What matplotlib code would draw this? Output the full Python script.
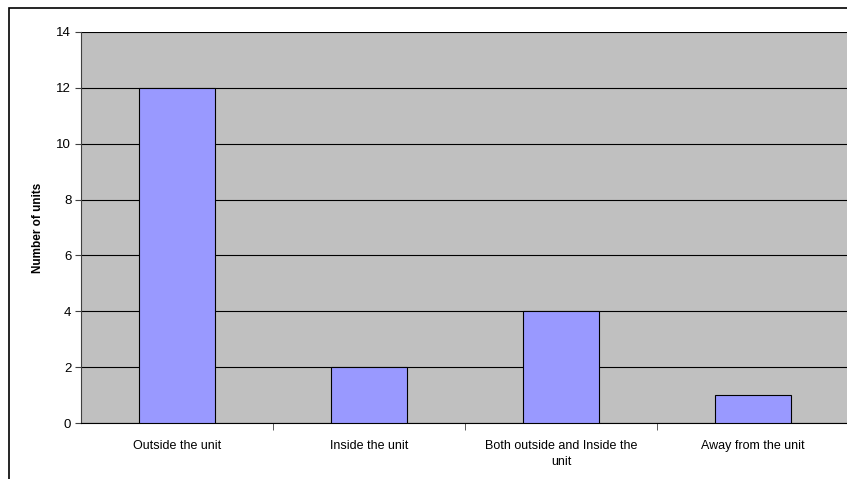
import matplotlib
matplotlib.use("Agg")
import matplotlib.pyplot as plt
from matplotlib.patches import Rectangle

categories = ["Outside the unit", "Inside the unit", "Both outside and Inside the\nunit", "Away from the unit"]
values = [12, 2, 4, 1]
yticks = [0, 2, 4, 6, 8, 10, 12, 14]

plt.rcParams['font.family'] = ['Liberation Sans', 'DejaVu Sans']

W, H = 847, 479
fig = plt.figure(figsize=(W/100, H/100), dpi=100)
fig.patch.set_facecolor('white')

# outer chart border (left and top visible)
fig.add_artist(Rectangle((9/W, -0.1), 1.2, 1 - 8/H + 0.1, transform=fig.transFigure,
                         fill=False, edgecolor='black', linewidth=1.2))

left, right, top, bottom = 81, 849, 32, 423
ax = fig.add_axes([left/W, 1 - bottom/H, (right-left)/W, (bottom-top)/H])
ax.set_facecolor('#C0C0C0')
x = list(range(len(categories)))
ax.bar(x, values, width=0.4, color='#9999FF', edgecolor='black', linewidth=0.8, zorder=3)
ax.set_xlim(-0.5, len(categories) - 0.5)
ax.set_ylim(0, 14)
ax.set_yticks(yticks)
ax.yaxis.grid(True, color='black', linewidth=0.8, zorder=1)
ax.set_axisbelow(True)
for s in ['top', 'right']:
    ax.spines[s].set_visible(False)
ax.spines['left'].set_color('#404040')
ax.spines['bottom'].set_color('black')
ax.set_xticks(x)
ax.set_xticklabels(categories, fontsize=9, linespacing=1.5)
ax.tick_params(axis='x', length=0, pad=12)
ax.set_xticks([0.5, 1.5, 2.5], minor=True)
ax.tick_params(axis='x', which='minor', length=5, direction='out', color='#404040')
ax.tick_params(axis='y', labelsize=9.5, length=4, color='#404040', pad=3)
ax.set_ylabel("Number of units", fontsize=8.5, fontweight='bold', labelpad=9)

fig.savefig("out.png", dpi=100)
